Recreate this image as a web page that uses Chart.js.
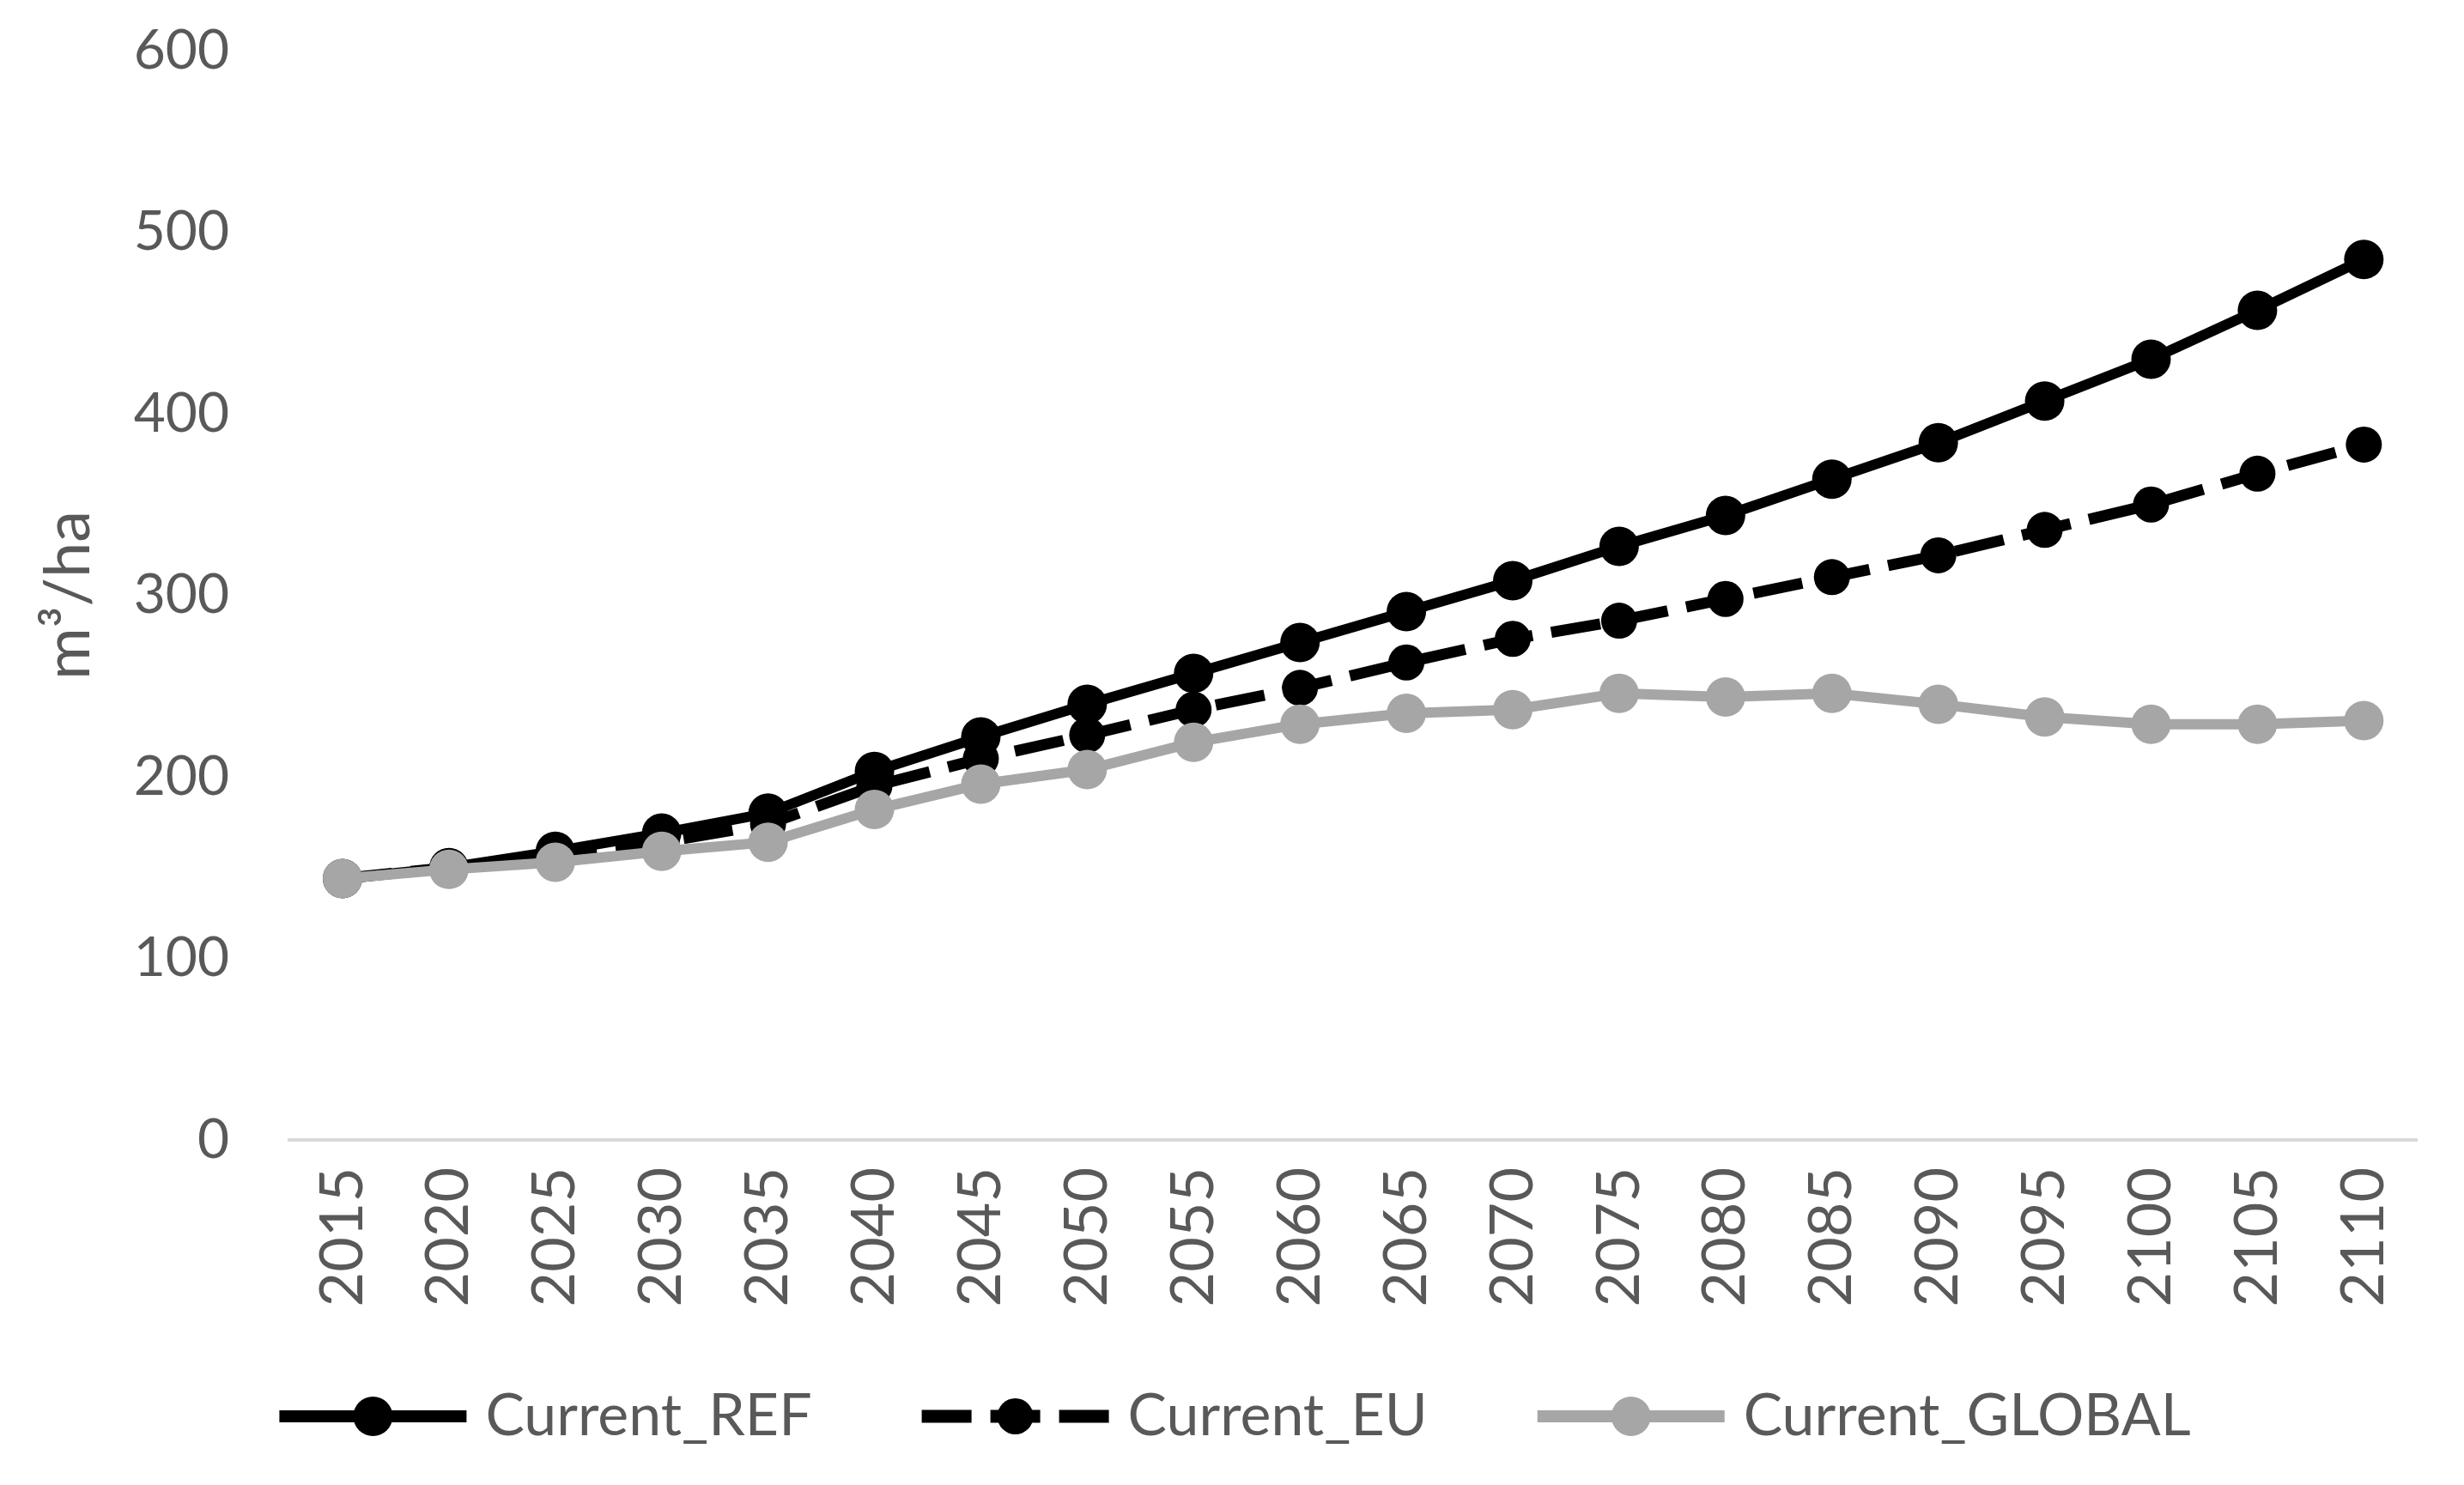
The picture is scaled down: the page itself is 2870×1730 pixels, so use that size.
<!DOCTYPE html>
<html>
<head>
<meta charset="utf-8">
<script src="https://cdn.jsdelivr.net/npm/chart.js@4/dist/chart.umd.min.js"></script>
<style>
  html, body { margin: 0; padding: 0; background: #fff; }
  #wrap { width: 2870px; height: 1730px; }
</style>
</head>
<body>
<div id="wrap"><canvas id="myChart"></canvas></div>
<script>
// years on the category axis
const years = ['2015','2020','2025','2030','2035','2040','2045','2050','2055','2060',
               '2065','2070','2075','2080','2085','2090','2095','2100','2105','2110']
// m3/ha
const currentRef = [144,150,159,169,180,203,222,240,257,274,291,308,327,344,364,384,407,430,457,485]
const currentEu = [144,150,157,164,174,195,210,223,237,249,263,276,286,298,310,322,336,350,367,383]
const currentGlobal = [144,149,153,159,164,182,196,204,219,229,235,237,246,244,246,240,233,229,229,231]
const yTicks = [0,100,200,300,400,500,600]

const textGrey = '#595959'
const fontName = 'Lato'

// draws line + marker in the legend instead of the default box
const legendSymbols = {
  id: 'legendSymbols',
  afterDraw(chart) {
    const legend = chart.legend
    if (!legend || !legend.legendHitBoxes) return
    const ctx = chart.ctx
    const boxW = legend.options.labels.boxWidth
    legend.legendHitBoxes.forEach((hb, i) => {
      const item = legend.legendItems[i]
      const ds = chart.data.datasets[item.datasetIndex]
      const x2 = hb.left + boxW + 12
      const x1 = x2 - 218
      const y = hb.top + hb.height / 2
      ctx.save()
      ctx.strokeStyle = ds.borderColor
      ctx.lineWidth = ds.borderWidth + 2
      ctx.lineCap = 'butt'
      ctx.setLineDash(ds.borderDash || [])
      ctx.beginPath()
      ctx.moveTo(x1, y)
      ctx.lineTo(x2, y)
      ctx.stroke()
      ctx.setLineDash([])
      ctx.fillStyle = ds.pointBackgroundColor
      ctx.beginPath()
      ctx.arc((x1 + x2) / 2, y, ds.pointRadius, 0, Math.PI * 2)
      ctx.fill()
      ctx.restore()
    })
  }
}

var ctx = document.getElementById('myChart').getContext('2d')
var myChart = new Chart(ctx, {
  type: 'line',
  data: {
    labels: years,
    datasets: [{
      label: 'Current_REF',
      data: currentRef,
      borderColor: '#000000',
      backgroundColor: '#000000',
      pointBackgroundColor: '#000000',
      pointBorderColor: '#000000',
      borderWidth: 12,
      pointRadius: 23,
      pointBorderWidth: 0,
      order: 2
    }, {
      label: 'Current_EU',
      data: currentEu,
      borderColor: '#000000',
      backgroundColor: '#000000',
      pointBackgroundColor: '#000000',
      pointBorderColor: '#000000',
      borderWidth: 13,
      borderDash: [58, 22],
      pointRadius: 21,
      pointBorderWidth: 0,
      order: 1
    }, {
      label: 'Current_GLOBAL',
      data: currentGlobal,
      borderColor: '#a6a6a6',
      backgroundColor: '#a6a6a6',
      pointBackgroundColor: '#a6a6a6',
      pointBorderColor: '#a6a6a6',
      borderWidth: 12,
      pointRadius: 23,
      pointBorderWidth: 0,
      order: 0
    }]
  },
  options: {
    responsive: true,
    maintainAspectRatio: false,
    devicePixelRatio: 1,
    animation: false,
    layout: { autoPadding: false, padding: { left: 0, right: 27, top: 59, bottom: 36 } },
    plugins: {
      tooltip: { enabled: false },
      legend: {
        position: 'bottom',
        labels: {
          color: textGrey,
          font: { family: fontName, size: 68 },
          boxWidth: 240,
          padding: 94,
          sort: (a, b) => a.datasetIndex - b.datasetIndex,
          generateLabels(chart) {
            const items = Chart.defaults.plugins.legend.labels.generateLabels(chart)
            items.forEach(it => { it.fillStyle = 'rgba(0,0,0,0)'; it.lineWidth = 0; it.strokeStyle = 'rgba(0,0,0,0)' })
            return items
          }
        }
      }
    },
    scales: {
      x: {
        offset: true,
        grid: { display: false, drawTicks: false },
        border: { display: true, color: '#d9d9d9', width: 4 },
        ticks: {
          color: textGrey,
          font: { family: fontName, size: 70 },
          maxRotation: 90,
          minRotation: 90,
          autoSkip: false,
          padding: 32
        },
        afterFit(scale) { scale.height = 194 }
      },
      y: {
        min: 0,
        max: 600,
        afterBuildTicks(scale) { scale.ticks = yTicks.map(v => ({ value: v })) },
        // hidden tick marks give the gap between labels and plot
        grid: { display: false, drawTicks: true, tickLength: 70 },
        border: { display: false },
        ticks: {
          color: textGrey,
          font: { family: fontName, size: 64 },
          padding: 0
        },
        title: {
          display: true,
          text: 'm³/ha',
          color: textGrey,
          font: { family: fontName, size: 74 },
          padding: { top: 36, bottom: 0 }
        },
        afterFit(scale) { scale.width = 337 }
      }
    }
  },
  plugins: [legendSymbols]
})
</script>
</body>
</html>
